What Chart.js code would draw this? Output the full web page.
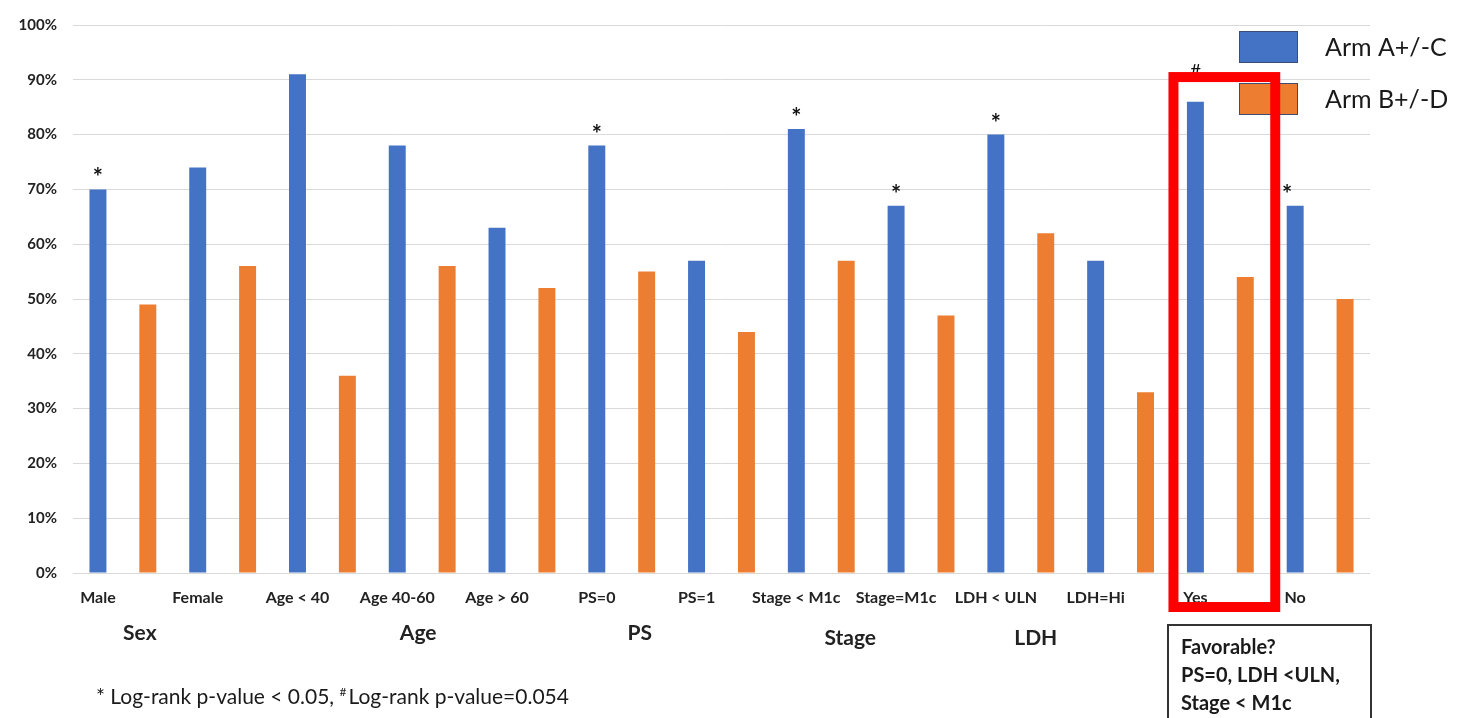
<!DOCTYPE html>
<html>
<head>
<meta charset="utf-8">
<script src="https://cdn.jsdelivr.net/npm/chart.js@4/dist/chart.umd.min.js"></script>
<style>
  html, body { margin: 0; padding: 0; background: #fff; }
  #wrap { width: 1460px; height: 718px; }
</style>
</head>
<body>
<div id="wrap"><canvas id="chart" width="1460" height="718"></canvas></div>
<script>
// data
const categories = ["Male", "Female", "Age < 40", "Age 40-60", "Age > 60", "PS=0", "PS=1",
  "Stage < M1c", "Stage=M1c", "LDH < ULN", "LDH=Hi", "Yes", "No"];
const armAC = [70, 74, 91, 78, 63, 78, 57, 81, 67, 80, 57, 86, 67];
const armBD = [49, 56, 36, 56, 52, 55, 44, 57, 47, 62, 33, 54, 50];
const markers = ["*", "", "", "", "", "*", "", "*", "*", "*", "", "#", "*"];
const seriesNames = ["Arm A+/-C", "Arm B+/-D"];
const groupNames = ["Sex", "Age", "PS", "Stage", "LDH"];
const groupAt = [0.17, 2.96, 5.18, 7.29, 9.15]; // category index position of each group name
const groupDy = [0, 0, 0, 5, 5];
const favLines = ["Favorable?", "PS=0, LDH <ULN,", "Stage < M1c"];

const blue = "#4472C4";
const orange = "#ED7D31";
const font = "Lato, 'Open Sans', sans-serif";

const overlay = {
  id: "overlay",
  afterDatasetsDraw(chart) {
    const ctx = chart.ctx;
    const area = chart.chartArea;
    const xs = chart.scales.x;
    const ys = chart.scales.y;
    const bBars = chart.getDatasetMeta(0).data;
    ctx.save();

    // markers over blue bars
    ctx.fillStyle = "#111";
    ctx.textAlign = "center";
    ctx.textBaseline = "alphabetic";
    bBars.forEach((bar, i) => {
      const m = markers[i];
      if (!m) return;
      if (m === "#") {
        ctx.font = "19px " + font;
        ctx.fillText(m, bar.x, bar.y - 24);
      } else {
        ctx.font = "bold 24px " + font;
        const dx = i === categories.length - 1 ? -8 : 0;
        ctx.fillText(m, bar.x + dx, bar.y - 3);
      }
    });

    // category labels under blue bars
    ctx.font = "bold 16px " + font;
    ctx.fillStyle = "#222";
    bBars.forEach((bar, i) => {
      ctx.fillText(categories[i], bar.x, area.bottom + 30);
    });

    // group labels
    ctx.font = "bold 21px " + font;
    groupNames.forEach((g, i) => {
      ctx.fillText(g, xs.getPixelForValue(groupAt[i]), area.bottom + 67 + groupDy[i]);
    });

    // legend
    const colors = [blue, orange];
    ctx.textAlign = "left";
    ctx.textBaseline = "middle";
    ctx.font = "25px " + font;
    seriesNames.forEach((s, i) => {
      const top = 31 + i * 52;
      ctx.fillStyle = colors[i];
      ctx.fillRect(1239, top, 58, 31);
      ctx.strokeStyle = "#3a4f70";
      ctx.lineWidth = 1;
      ctx.strokeRect(1239.5, top + 0.5, 58, 31);
      ctx.fillStyle = "#1a1a1a";
      ctx.fillText(s, 1325, top + 17);
    });

    // red highlight box around "Yes"
    const yesIdx = categories.indexOf("Yes");
    const half = (xs.getPixelForValue(1) - xs.getPixelForValue(0)) / 2;
    const cx = xs.getPixelForValue(yesIdx) + 4;
    ctx.strokeStyle = "#ff0000";
    ctx.lineWidth = 10;
    const top = ys.getPixelForValue(90.5);
    ctx.strokeRect(cx - half - 1, top, half * 2 + 2, area.bottom + 34 - top);

    // favorable note box
    ctx.strokeStyle = "#333";
    ctx.lineWidth = 2;
    ctx.strokeRect(1168, 625, 203, 100);
    ctx.fillStyle = "#1a1a1a";
    ctx.font = "bold 20px " + font;
    ctx.textBaseline = "alphabetic";
    favLines.forEach((t, i) => ctx.fillText(t, 1181, 654 + i * 28));

    // footnote
    ctx.font = "21px " + font;
    let fx = 96;
    const part1 = "* Log-rank p-value < 0.05, ";
    ctx.fillText(part1, fx, 704);
    fx += ctx.measureText(part1).width;
    ctx.font = "12px " + font;
    ctx.fillText("#", fx, 696);
    fx += ctx.measureText("#").width + 2;
    ctx.font = "21px " + font;
    ctx.fillText("Log-rank p-value=0.054", fx, 704);

    ctx.restore();
  }
};

new Chart(document.getElementById("chart"), {
  type: "bar",
  plugins: [overlay],
  data: {
    labels: categories,
    datasets: [
      { label: seriesNames[0], data: armAC, backgroundColor: blue },
      { label: seriesNames[1], data: armBD, backgroundColor: orange },
    ],
  },
  options: {
    responsive: false,
    animation: false,
    layout: { padding: { top: 21, right: 90, bottom: 0, left: 0 } },
    datasets: { bar: { categoryPercentage: 1.0, barPercentage: 0.34 } },
    plugins: {
      legend: { display: false },
      tooltip: { enabled: false },
    },
    scales: {
      x: {
        grid: { display: false },
        border: { display: false },
        ticks: { display: false },
        afterFit: (s) => { s.height = 145; },
      },
      y: {
        min: 0,
        max: 100,
        grid: { color: "#d9d9d9", drawTicks: false },
        border: { display: false },
        ticks: {
          stepSize: 10,
          padding: 16,
          color: "#222",
          font: { family: font, size: 15, weight: "bold" },
          callback: (v) => v + "%",
        },
        afterFit: (s) => { s.width = 73; },
      },
    },
  },
});
</script>
</body>
</html>
